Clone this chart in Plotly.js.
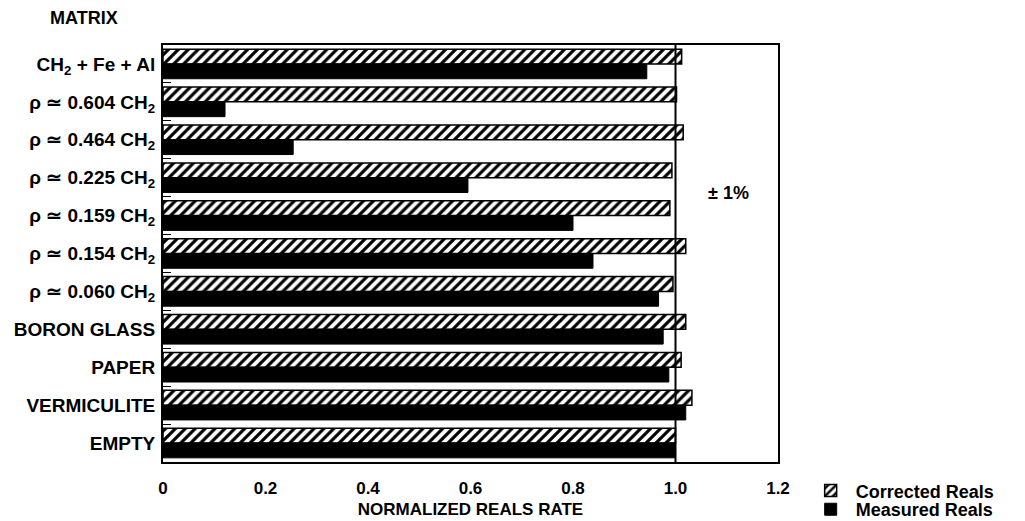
<!DOCTYPE html>
<html>
<head>
<meta charset="utf-8">
<script src="https://cdn.plot.ly/plotly-3.0.1.min.js"></script>
<style>
  html, body { margin: 0; padding: 0; background: #fff; }
  #chart { width: 1025px; height: 521px; }
</style>
</head>
<body>
<div id="chart"></div>
<script>
// Sample matrices, listed top to bottom
const categories = [
  'CH<sub>2</sub> + Fe + Al',
  'ρ ≃ 0.604 CH<sub>2</sub>',
  'ρ ≃ 0.464 CH<sub>2</sub>',
  'ρ ≃ 0.225 CH<sub>2</sub>',
  'ρ ≃ 0.159 CH<sub>2</sub>',
  'ρ ≃ 0.154 CH<sub>2</sub>',
  'ρ ≃ 0.060 CH<sub>2</sub>',
  'BORON GLASS',
  'PAPER',
  'VERMICULITE',
  'EMPTY'
];

// Normalized reals rates
const correctedReals = [1.012, 1.002, 1.015, 0.993, 0.989, 1.020, 0.995, 1.020, 1.011, 1.032, 1.000];
const measuredReals  = [0.944, 0.121, 0.254, 0.595, 0.800, 0.839, 0.967, 0.976, 0.987, 1.020, 1.000];

// Axis ticks
const xTickVals = [0, 0.2, 0.4, 0.6, 0.8, 1.0, 1.2];
const xTickText = ['0', '0.2', '0.4', '0.6', '0.8', '1.0', '1.2'];

// Reference rate and tolerance band label
const referenceRate = 1.0;
const toleranceLabel = '± 1%';

const FONT = 'Liberation Sans, Arial, Helvetica, sans-serif';
const boldFont = (size) => ({ family: FONT, size: size, color: '#000', weight: 'bold' });

const traces = [
  {
    type: 'bar',
    orientation: 'h',
    name: 'Corrected Reals',
    y: categories,
    x: correctedReals,
    legend: 'legend',
    marker: {
      color: '#fff',
      line: { color: '#000', width: 1.5 },
      pattern: { shape: '/', fgcolor: '#000', bgcolor: '#fff', size: 7, solidity: 0.45, fillmode: 'replace' }
    },
    hoverinfo: 'x+y'
  },
  {
    type: 'bar',
    orientation: 'h',
    name: 'Measured Reals',
    y: categories,
    x: measuredReals,
    legend: 'legend2',
    marker: { color: '#000', line: { color: '#000', width: 1 } },
    hoverinfo: 'x+y'
  }
];

const layout = {
  width: 1025,
  height: 521,
  margin: { l: 163, r: 247, t: 45, b: 59, autoexpand: false },
  paper_bgcolor: '#fff',
  plot_bgcolor: '#fff',
  font: boldFont(18),
  barmode: 'group',
  bargap: 0.22,
  bargroupgap: 0,
  xaxis: {
    range: [0, 1.2],
    tickvals: xTickVals,
    ticktext: xTickText,
    ticks: '',
    showgrid: false,
    zeroline: false,
    showline: true,
    mirror: true,
    linecolor: '#000',
    linewidth: 2,
    automargin: false,
    ticklabelstandoff: 10,
    tickfont: boldFont(17),
    title: { text: 'NORMALIZED REALS RATE', font: boldFont(17), standoff: 6 },
    fixedrange: true
  },
  yaxis: {
    type: 'category',
    autorange: 'reversed',
    ticks: 'inside',
    tickson: 'boundaries',
    ticklen: 8,
    tickwidth: 1,
    tickcolor: '#000',
    showgrid: false,
    zeroline: false,
    showline: true,
    mirror: true,
    linecolor: '#000',
    linewidth: 2,
    automargin: false,
    ticklabelstandoff: 2,
    tickfont: boldFont(19),
    fixedrange: true
  },
  showlegend: true,
  legend: {
    x: 1.045, xanchor: 'left',
    y: -0.069, yanchor: 'middle',
    font: boldFont(18),
    bgcolor: 'rgba(0,0,0,0)',
    borderwidth: 0,
    itemwidth: 40
  },
  legend2: {
    x: 1.045, xanchor: 'left',
    y: -0.114, yanchor: 'middle',
    font: boldFont(18),
    bgcolor: 'rgba(0,0,0,0)',
    borderwidth: 0,
    itemwidth: 40
  },
  shapes: [
    {
      type: 'line',
      xref: 'x', yref: 'paper',
      x0: referenceRate, x1: referenceRate, y0: 0, y1: 1,
      line: { color: '#000', width: 2 }
    }
  ],
  annotations: [
    {
      text: 'MATRIX',
      xref: 'paper', yref: 'paper',
      x: -0.128, y: 1.065,
      xanchor: 'center', yanchor: 'middle',
      showarrow: false,
      font: boldFont(18)
    },
    {
      text: toleranceLabel,
      xref: 'x', yref: 'paper',
      x: 1.104, y: 0.645,
      xanchor: 'center', yanchor: 'middle',
      showarrow: false,
      font: boldFont(18)
    }
  ]
};

Plotly.newPlot('chart', traces, layout, { displayModeBar: false, staticPlot: true });
</script>
</body>
</html>
